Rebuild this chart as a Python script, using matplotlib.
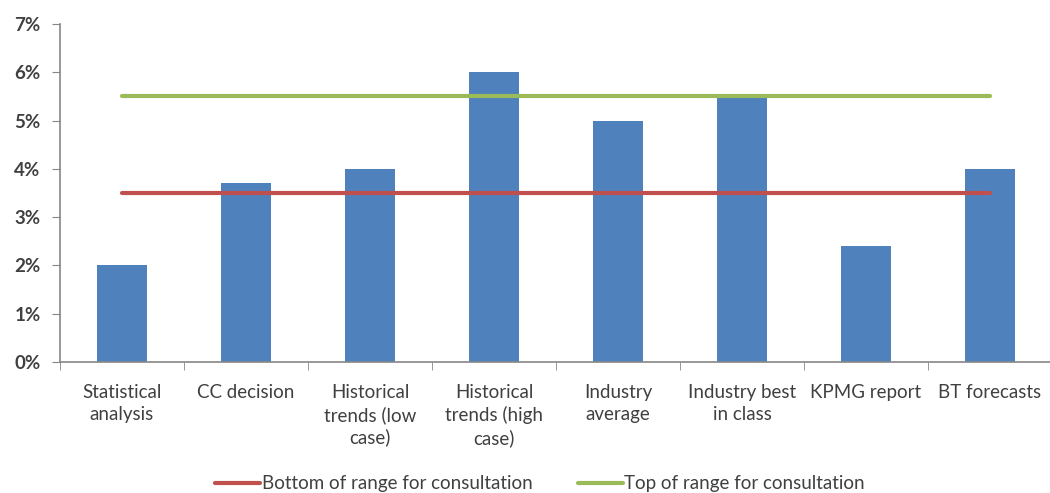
import matplotlib.pyplot as plt
import numpy as np
from matplotlib.ticker import PercentFormatter

categories = ['Statistical\nanalysis', 'CC decision', 'Historical\ntrends (low\ncase)',
              'Historical\ntrends (high\ncase)', 'Industry\naverage', 'Industry best\nin class',
              'KPMG report', 'BT forecasts']
values = [2.0, 3.7, 4.0, 6.0, 5.0, 5.5, 2.4, 4.0]
bottom_range = 3.5
top_range = 5.5

plt.rcParams['font.family'] = ['Lato', 'DejaVu Sans']
text_col = '#404040'
axis_col = '#868686'
fs = 13.5

fig = plt.figure(figsize=(10.5, 4.93), dpi=100)
ax = fig.add_axes([60 / 1050, 131 / 493, 992 / 1050, 338 / 493])

x = np.arange(len(categories))
ax.bar(x, values, width=0.4, color='#4F81BD', zorder=2)
ax.plot([x[0], x[-1]], [bottom_range] * 2, color='#C0504D', lw=3, zorder=3,
        solid_capstyle='round', label='Bottom of range for consultation')
ax.plot([x[0], x[-1]], [top_range] * 2, color='#9BBB59', lw=3, zorder=3,
        solid_capstyle='round', label='Top of range for consultation')

ax.set_xlim(-0.5, len(categories) - 0.5)
ax.set_ylim(0, 7)
ax.set_yticks(range(0, 8))
ax.yaxis.set_major_formatter(PercentFormatter(decimals=0))

ax.set_xticks(x)
ax.set_xticklabels(categories, fontsize=fs, color=text_col, linespacing=1.32, va='top')
ax.set_xticks(np.arange(-0.5, len(categories)), minor=True)
ax.tick_params(axis='x', which='major', length=0, pad=16)
ax.tick_params(axis='x', which='minor', length=6, color=axis_col, direction='out')
ax.tick_params(axis='y', length=6, color=axis_col, labelsize=fs, labelcolor=text_col, pad=8)
for lbl in ax.get_yticklabels():
    lbl.set_fontweight('bold')

for s in ['top', 'right']:
    ax.spines[s].set_visible(False)
for s in ['left', 'bottom']:
    ax.spines[s].set_color(axis_col)
    ax.spines[s].set_linewidth(1.2)

leg = fig.legend(loc='center', bbox_to_anchor=(540 / 1050, 1 - 484 / 493), ncol=2,
                 frameon=False, fontsize=fs, handlelength=2.4, handletextpad=0.1,
                 columnspacing=2.4)
for t in leg.get_texts():
    t.set_color(text_col)

fig.savefig('out.png', dpi=100)
